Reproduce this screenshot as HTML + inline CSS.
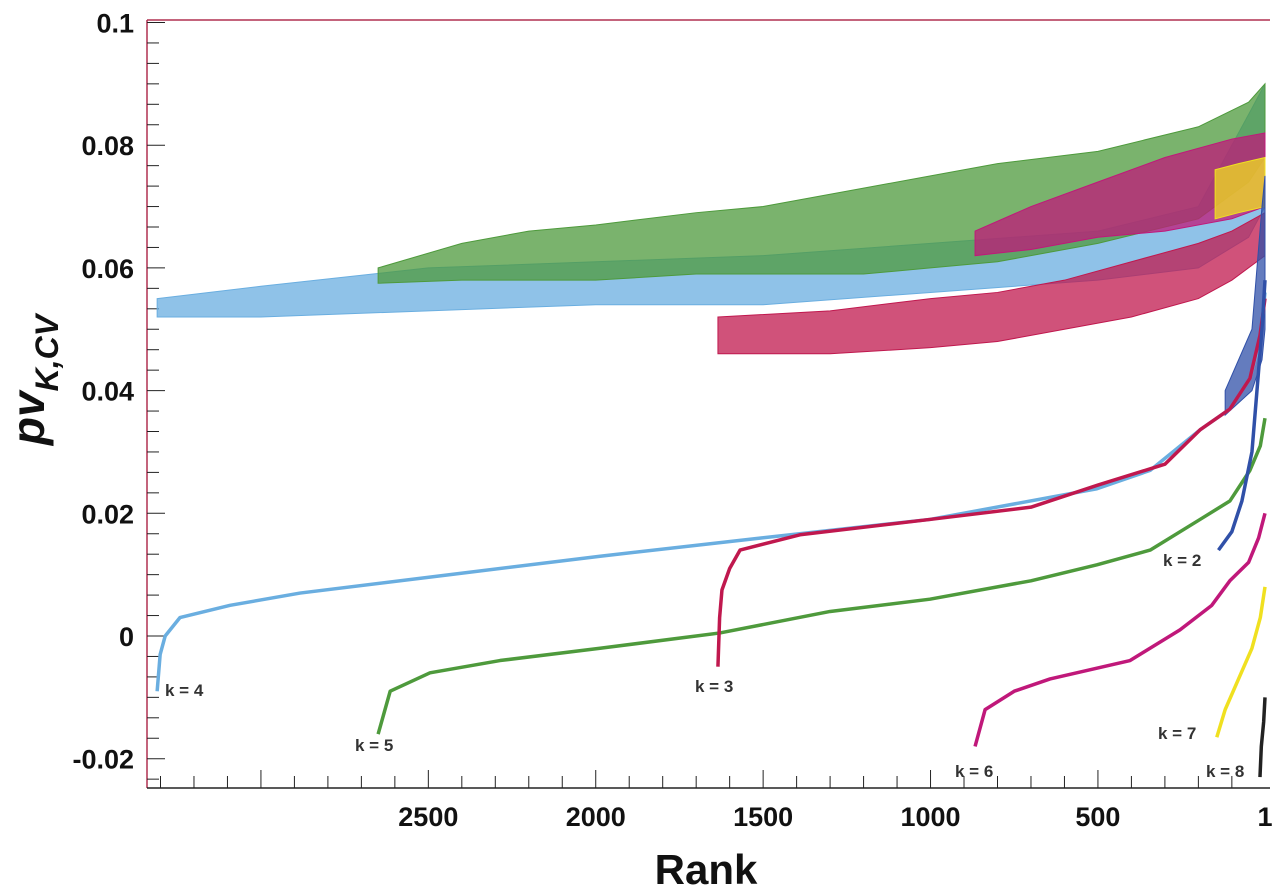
<!DOCTYPE html>
<html><head><meta charset="utf-8"><style>
html,body{margin:0;padding:0;background:#fff;}
svg{display:block;font-family:"Liberation Sans",sans-serif;}
</style></head><body>
<svg id="chart" width="1280" height="892" viewBox="0 0 1280 892" xmlns="http://www.w3.org/2000/svg"></svg>
<script>
const yTicks=[0.1,0.08,0.06,0.04,0.02,0,-0.02];
const yTickLabels=["0.1","0.08","0.06","0.04","0.02","0","-0.02"];
const xTicks=[2500,2000,1500,1000,500,1];
const xTickLabels=["2500","2000","1500","1000","500","1"];
// smooth sorted curves: [rank, value]
const k4=[[3310,-0.009],[3301,-0.003],[3286,0],[3242,0.003],[3092,0.005],[2883,0.007],[2450,0.0099],[1987,0.013],[1503,0.016],[1002,0.019],[503,0.024],[344,0.027],[195,0.0336],[106,0.037],[46,0.042],[16,0.048],[1,0.056]];
const k5=[[2650,-0.016],[2614,-0.009],[2495,-0.006],[2286,-0.004],[1987,-0.002],[1629,0.0005],[1300,0.004],[1002,0.006],[700,0.009],[503,0.0116],[344,0.014],[195,0.019],[106,0.022],[46,0.027],[15,0.031],[1,0.0355]];
const k3=[[1635,-0.005],[1630,0.003],[1623,0.0075],[1600,0.011],[1569,0.014],[1390,0.0165],[1002,0.019],[700,0.021],[500,0.0246],[300,0.028],[195,0.0336],[106,0.037],[46,0.042],[16,0.049],[1,0.055]];
const k6=[[867,-0.018],[837,-0.012],[750,-0.009],[643,-0.007],[404,-0.004],[255,0.001],[160,0.005],[106,0.009],[50,0.012],[20,0.016],[1,0.02]];
const k2=[[140,0.014],[100,0.017],[70,0.022],[40,0.03],[25,0.04],[10,0.05],[1,0.058]];
const k7=[[145,-0.0165],[120,-0.012],[80,-0.007],[40,-0.002],[15,0.003],[1,0.008]];
const k8=[[16,-0.023],[12,-0.018],[5,-0.014],[1,-0.010]];
// noisy CV bands: [rank, low, high]
const bandK4=[[3310,0.052,0.055],[3000,0.052,0.057],[2500,0.053,0.060],[2000,0.054,0.061],[1500,0.054,0.062],[1000,0.056,0.064],[500,0.058,0.066],[200,0.060,0.070],[50,0.065,0.085],[1,0.070,0.090]];
const bandK5=[[2650,0.0575,0.060],[2400,0.058,0.064],[2200,0.058,0.066],[2000,0.058,0.067],[1700,0.059,0.069],[1500,0.059,0.070],[1200,0.059,0.073],[1000,0.060,0.075],[800,0.061,0.077],[500,0.064,0.079],[200,0.068,0.083],[50,0.074,0.087],[1,0.078,0.090]];
const bandK3=[[1635,0.046,0.052],[1300,0.046,0.053],[1000,0.047,0.055],[800,0.048,0.056],[600,0.050,0.058],[400,0.052,0.061],[200,0.055,0.064],[100,0.058,0.066],[1,0.062,0.069]];
const bandK6=[[867,0.062,0.066],[700,0.063,0.070],[500,0.065,0.074],[300,0.066,0.078],[100,0.068,0.081],[1,0.070,0.082]];
const bandK7=[[150,0.068,0.076],[80,0.069,0.077],[1,0.070,0.078]];
const bandK2=[[120,0.036,0.040],[40,0.040,0.050],[10,0.045,0.070],[1,0.050,0.075]];

const NS="http://www.w3.org/2000/svg";
const svg=document.getElementById('chart');
const X=r=>1265-(r-1)*0.3348;
const Y=v=>636-v*6135;
const L=147,R=1270,T=20,B=788;
function mk(tag,attrs,parent){const e=document.createElementNS(NS,tag);for(const k in attrs)e.setAttribute(k,attrs[k]);(parent||svg).appendChild(e);return e;}

let e=mk('line',{x1:L,y1:T,x2:R,y2:T,stroke:'#b03050','stroke-width':1.5});


e=mk('line',{x1:L,y1:T,x2:L,y2:B,stroke:'#b03050','stroke-width':1.5});


e=mk('line',{x1:L,y1:B,x2:R,y2:B,stroke:'#222','stroke-width':1.5});



const yMin=-0.025,yMax=0.1;
for(let i=0;i<=37;i++){const v=yMax-i*0.02/6; if(v<yMin)break; const major=Math.abs(Math.round(v/0.02)*0.02-v)<1e-6;
 e=mk('line',{x1:L,y1:Y(v),x2:L+(major?18:12),y2:Y(v),stroke:'#222','stroke-width':1});
 
 }
yTicks.forEach((v,i)=>{e=mk('text',{x:134,y:Y(v)+10,'text-anchor':'end','font-size':27,'font-weight':'bold',fill:'#111'});e.textContent=yTickLabels[i];
 
 });
for(let r=100;r<=3300;r+=100){const major=r%500===0;
 e=mk('line',{x1:X(r),y1:B,x2:X(r),y2:B-(major?18:12),stroke:'#222','stroke-width':1});
 
 }
xTicks.forEach((r,i)=>{e=mk('text',{x:X(r),y:826,'text-anchor':'middle','font-size':27,'font-weight':'bold',fill:'#111'});e.textContent=xTickLabels[i];
 
 });

function band(data,color,name){const top=data.map(d=>X(d[0])+','+Y(d[2]));const bot=data.slice().reverse().map(d=>X(d[0])+','+Y(d[1]));
 const p=mk('polygon',{points:top.concat(bot).join(' '),fill:color,'fill-opacity':0.75,stroke:color,'stroke-width':1});
 
 }
band(bandK4,'#6aaee0','cv-band-k4');
band(bandK5,'#4e9a3c','cv-band-k5');
band(bandK3,'#c0184e','cv-band-k3');
band(bandK6,'#c0187a','cv-band-k6');
band(bandK7,'#f0e020','cv-band-k7');
band(bandK2,'#3050a8','cv-band-k2');

function curve(data,color,name){const p=mk('polyline',{points:data.map(d=>X(d[0])+','+Y(d[1])).join(' '),fill:'none',stroke:color,'stroke-width':3.5,'stroke-linejoin':'round'});
 
 }
curve(k4,'#6aaee0','curve-k4');
curve(k5,'#4e9a3c','curve-k5');
curve(k3,'#c0184e','curve-k3');
curve(k6,'#c0187a','curve-k6');
curve(k2,'#3050a8','curve-k2');
curve(k7,'#f0e020','curve-k7');
curve(k8,'#222222','curve-k8');

const labels=[["k = 4",165,696],["k = 5",355,751],["k = 3",695,692],["k = 6",955,777],["k = 2",1163,566],["k = 7",1158,739],["k = 8",1206,777]];
labels.forEach(l=>{e=mk('text',{x:l[1],y:l[2],'font-size':17,'font-weight':'bold',fill:'#333'});e.textContent=l[0];
 
 });

e=mk('text',{x:706,y:884,'text-anchor':'middle','font-size':42,'font-weight':'bold',fill:'#111'});e.textContent='Rank';


e=mk('text',{x:0,y:0,transform:'translate(44,380) rotate(-90)','text-anchor':'middle','font-size':46,'font-weight':'bold','font-style':'italic',fill:'#111'});
e.innerHTML='pv<tspan font-size="32" dy="14">K,CV</tspan>';


</script>
</body></html>
